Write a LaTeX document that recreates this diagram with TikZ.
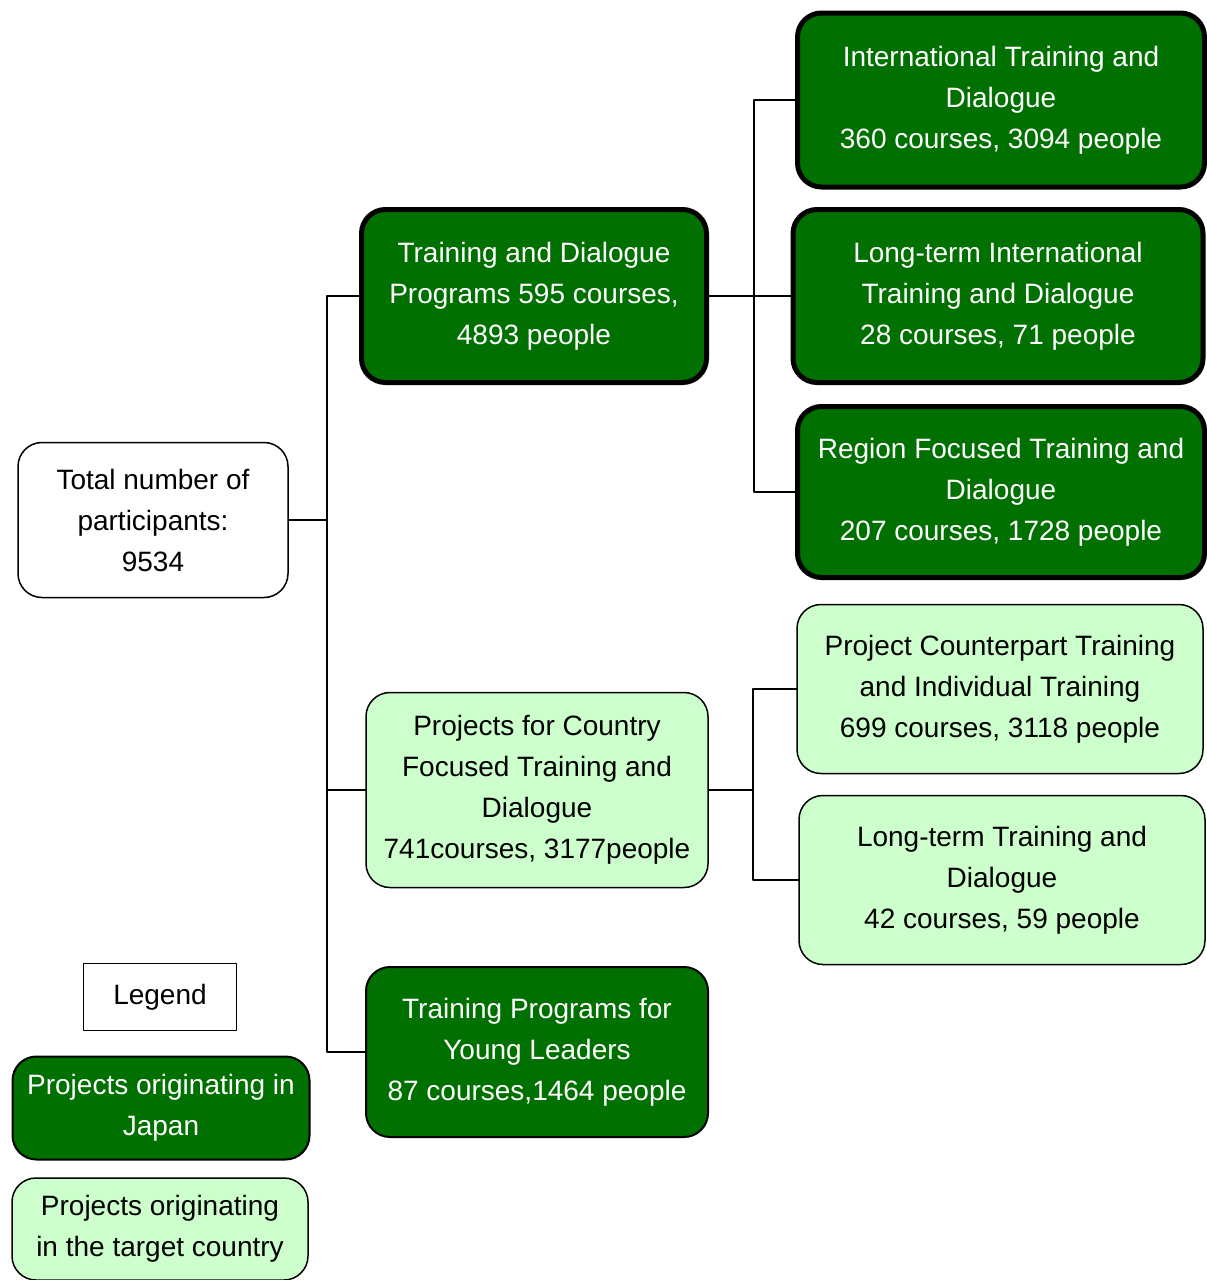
\documentclass[tikz,border=0pt]{standalone}
\usepackage{fontspec}
\setmainfont{Liberation Sans}
\usetikzlibrary{positioning}

\definecolor{jgreen}{RGB}{0,112,0}
\definecolor{lgreen}{RGB}{204,255,204}

\begin{document}
\begin{tikzpicture}[line cap=round,line join=round,x=1pt,y=-1pt,
    box/.style={rounded corners=24pt,align=center,inner sep=0pt,
      font=\fontsize{28}{41}\selectfont},
    japan/.style={box,draw=black,fill=jgreen,text=white,line width=2pt},
    japanbold/.style={japan,line width=5pt},
    local/.style={box,draw=black,fill=lgreen,line width=1.5pt},
    link/.style={draw=black,line width=2pt}]
  \useasboundingbox (0,0) rectangle (1207,1280);

  % root
  \node[box,draw=black,fill=white,line width=1.5pt,minimum width=270pt,minimum height=155pt]
    (total) at (153,520) {Total number of\\participants:\\9534};

  % second level
  \node[japanbold,minimum width=345pt,minimum height=173pt] (tdp) at (534,296)
    {Training and Dialogue\\Programs 595 courses,\\4893 people};
  \node[local,minimum width=342pt,minimum height=195pt] (pcftd) at (537,790)
    {Projects for Country\\Focused Training and\\Dialogue\\741courses, 3177people};
  \node[japan,minimum width=342pt,minimum height=170pt] (tpyl) at (537,1052)
    {Training Programs for\\Young Leaders\\87 courses,1464 people};

  % third level
  \node[japanbold,minimum width=407pt,minimum height=174pt] (itd) at (1001,100)
    {International Training and\\Dialogue\\360 courses, 3094 people};
  \node[japanbold,minimum width=410pt,minimum height=173pt] (ltitd) at (998,296)
    {Long-term International\\Training and Dialogue\\28 courses, 71 people};
  \node[japanbold,minimum width=407pt,minimum height=171pt] (rftd) at (1001,492)
    {Region Focused Training and\\Dialogue\\207 courses, 1728 people};
  \node[local,minimum width=406pt,minimum height=169pt] (pctit) at (1000,689)
    {Project Counterpart Training\\and Individual Training\\699 courses, 3118 people};
  \node[local,minimum width=406pt,minimum height=169pt] (lttd) at (1002,880)
    {Long-term Training and\\Dialogue\\42 courses, 59 people};

  % legend
  \node[draw=black,line width=1.5pt,minimum width=153pt,minimum height=67pt,inner sep=0pt,
    font=\fontsize{28}{41}\selectfont] (legend) at (160,997) {Legend};
  \node[japan,minimum width=297pt,minimum height=103pt] (keyjapan) at (161,1108)
    {Projects originating in\\Japan};
  \node[local,minimum width=296pt,minimum height=102pt] (keylocal) at (160,1229)
    {Projects originating\\in the target country};

  % connectors
  \coordinate[right=38pt of total] (busl);
  \coordinate[right=45pt of tdp] (busr);
  \coordinate[right=44pt of pcftd] (busc);
  \draw[link] (total.east) -- (busl);
  \foreach \n in {tdp,pcftd,tpyl}
    \draw[link] (busl) |- (\n.west);
  \draw[link] (tdp.east) -- (ltitd.west);
  \foreach \n in {itd,rftd}
    \draw[link] (busr) |- (\n.west);
  \draw[link] (pcftd.east) -- (busc);
  \foreach \n in {pctit,lttd}
    \draw[link] (busc) |- (\n.west);
\end{tikzpicture}
\end{document}
